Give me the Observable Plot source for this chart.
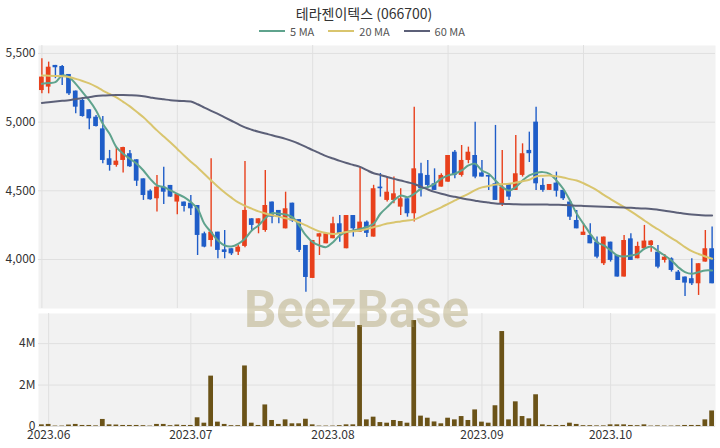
<!DOCTYPE html>
<html><head><meta charset="utf-8">
<script src="https://cdn.jsdelivr.net/npm/d3@7"></script>
<script src="https://cdn.jsdelivr.net/npm/@observablehq/plot@0.6"></script>
<style>
body{margin:0;background:#fff;font-family:"Noto Sans CJK KR","Noto Sans",sans-serif;}
#wrap{position:relative;width:720px;height:448px;overflow:hidden;background:#fff;}
#title{position:absolute;top:4px;left:4px;width:720px;text-align:center;font-size:14px;color:#333;line-height:18px;}
#legend{position:absolute;top:24px;left:2px;width:720px;display:flex;justify-content:center;gap:14px;font-size:11px;color:#555;line-height:14px;}
#legend span.item{display:flex;align-items:center;gap:5px;}
#legend span.sw{display:inline-block;width:26px;height:2px;}
#main{position:absolute;top:40px;left:0;}
#vol{position:absolute;top:310px;left:0;}
#wm{position:absolute;left:244px;top:280px;font-family:Roboto,"Noto Sans",sans-serif;font-weight:bold;font-size:51px;line-height:60px;color:rgba(170,155,100,0.42);pointer-events:none;letter-spacing:-0.3px;}
</style></head>
<body>
<div id="wrap">
  <div id="title"></div>
  <div id="legend"></div>
  <div id="main"></div>
  <div id="vol"></div>
  <div id="wm">BeezBase</div>
</div>
<script>
const chartTitle = "테라젠이텍스 (066700)";
const dates = [
"2023-05-31",
"2023-06-01","2023-06-02","2023-06-05","2023-06-07","2023-06-08","2023-06-09","2023-06-12","2023-06-13","2023-06-14","2023-06-15","2023-06-16","2023-06-19","2023-06-20","2023-06-21","2023-06-22","2023-06-23","2023-06-26","2023-06-27","2023-06-28","2023-06-29","2023-06-30",
"2023-07-03","2023-07-04","2023-07-05","2023-07-06","2023-07-07","2023-07-10","2023-07-11","2023-07-12","2023-07-13","2023-07-14","2023-07-17","2023-07-18","2023-07-19","2023-07-20","2023-07-21","2023-07-24","2023-07-25","2023-07-26","2023-07-27","2023-07-28","2023-07-31",
"2023-08-01","2023-08-02","2023-08-03","2023-08-04","2023-08-07","2023-08-08","2023-08-09","2023-08-10","2023-08-11","2023-08-14","2023-08-16","2023-08-17","2023-08-18","2023-08-21","2023-08-22","2023-08-23","2023-08-24","2023-08-25","2023-08-28","2023-08-29","2023-08-30","2023-08-31",
"2023-09-01","2023-09-04","2023-09-05","2023-09-06","2023-09-07","2023-09-08","2023-09-11","2023-09-12","2023-09-13","2023-09-14","2023-09-15","2023-09-18","2023-09-19","2023-09-20","2023-09-21","2023-09-22","2023-09-25","2023-09-26","2023-09-27",
"2023-10-04","2023-10-05","2023-10-06","2023-10-10","2023-10-11","2023-10-12","2023-10-13","2023-10-16","2023-10-17","2023-10-18","2023-10-19","2023-10-20","2023-10-23","2023-10-24","2023-10-25","2023-10-26"
];
const opens = [5230,5255,5413,5405,5347,5226,5158,5090,5036,4951,4733,4685,4721,4770,4726,4587,4498,4442,4527,4539,4418,4418,4410,4393,4187,4138,4199,4070,4078,4053,4095,4296,4260,4211,4418,4357,4223,4410,4290,4102,3862,4163,4114,4151,4260,4078,4320,4199,4272,4163,4527,4430,4430,4381,4442,4333,4624,4612,4551,4527,4563,4781,4612,4721,4757,4630,4612,4551,4405,4551,4503,4612,4794,5000,4539,4503,4556,4503,4418,4284,4175,4175,4126,3969,4126,4029,3872,4150,4005,4078,4102,4053,3993,4005,3908,3872,3860,3823,3981,4078];
const highs = [5461,5437,5413,5413,5347,5226,5170,5090,5048,5041,4794,4818,4818,4794,4726,4587,4507,4612,4672,4539,4474,4418,4466,4393,4199,4733,4199,4211,4078,4102,4714,4296,4296,4648,4418,4357,4490,4410,4290,4102,4138,4187,4187,4308,4320,4320,4320,4672,4280,4540,4626,4600,4600,4515,4442,5109,4700,4721,4660,4624,4757,4794,4830,4818,5000,4721,4612,4976,4794,4551,4903,4842,4927,5109,4588,4546,4636,4503,4418,4357,4260,4260,4163,4163,4126,4029,4175,4187,4126,4248,4138,4102,4036,4012,3920,3872,4005,3969,4211,4236];
const lows = [5206,5206,5316,5267,5194,5061,5036,4944,4965,4697,4643,4672,4629,4670,4532,4430,4432,4345,4400,4452,4325,4345,4320,4029,4085,4090,4005,4005,4029,4029,4085,4211,4187,4199,4260,4260,4223,4270,4050,3762,3862,4029,4114,4151,4126,4078,4163,4199,4160,4163,4454,4418,4405,4320,4308,4272,4454,4515,4503,4527,4563,4588,4600,4697,4588,4600,4503,4430,4386,4430,4503,4600,4706,4503,4490,4503,4454,4430,4284,4223,4175,4114,4005,3957,3981,3872,3872,3993,4005,4078,4053,3932,3974,3908,3847,3731,3811,3738,3981,3823];
const closes = [5328,5400,5396,5340,5206,5109,5041,5024,4968,4721,4685,4716,4815,4675,4570,4466,4435,4527,4490,4454,4474,4386,4369,4175,4090,4199,4066,4051,4041,4090,4357,4248,4296,4393,4308,4308,4369,4280,4066,3869,4138,4187,4187,4260,4187,4320,4223,4272,4190,4515,4515,4490,4478,4442,4333,4660,4515,4539,4503,4612,4757,4612,4721,4781,4600,4600,4600,4430,4527,4454,4624,4770,4770,4551,4503,4546,4497,4442,4308,4223,4199,4114,4017,4163,3993,3872,4138,3993,4095,4134,4134,3944,4017,3920,3847,3828,3823,3969,4078,3823];
const volumesM = [0.08,0.10,0.02,0.02,0.07,0.10,0.05,0.05,0.03,0.34,0.08,0.07,0.05,0.05,0.05,0.04,0.02,0.10,0.10,0.04,0.07,0.05,0.05,0.42,0.16,2.43,0.21,0.10,0.04,0.04,2.92,0.16,0.05,1.04,0.29,0.10,0.32,0.13,0.13,0.35,0.08,0.02,0.02,0.02,0.04,0.08,0.08,4.87,0.32,0.45,0.19,0.16,0.29,0.24,0.16,5.11,0.50,0.40,0.22,0.13,0.40,0.32,0.48,0.29,0.80,0.21,0.16,1.00,4.58,0.32,1.19,0.48,0.37,1.53,0.08,0.05,0.05,0.05,0.16,0.10,0.04,0.04,0.03,0.03,0.08,0.08,0.08,0.05,0.04,0.08,0.02,0.03,0.02,0.02,0.03,0.05,0.05,0.05,0.32,0.75];
const ma5 = [5279,5285,5291,5340,5328,5279,5218,5158,5085,4988,4915,4818,4770,4733,4697,4648,4587,4539,4527,4503,4478,4454,4418,4369,4260,4199,4138,4102,4095,4114,4151,4211,4248,4300,4337,4333,4328,4308,4248,4175,4126,4102,4090,4126,4175,4199,4211,4223,4236,4260,4333,4381,4430,4466,4454,4478,4515,4527,4551,4588,4612,4624,4648,4685,4697,4648,4624,4575,4527,4503,4527,4575,4612,4630,4636,4624,4575,4515,4430,4333,4260,4187,4126,4102,4066,4029,4022,4029,4041,4078,4095,4061,4029,3993,3944,3908,3896,3908,3920,3920];
const ma20 = [5340,5338,5336,5334,5328,5315,5300,5282,5258,5230,5205,5180,5148,5115,5075,5035,4988,4940,4896,4852,4805,4757,4712,4670,4622,4575,4530,4488,4450,4415,4390,4370,4350,4335,4322,4312,4300,4290,4270,4248,4225,4204,4192,4185,4192,4200,4205,4211,4222,4235,4248,4262,4270,4277,4284,4290,4312,4335,4358,4380,4405,4430,4455,4478,4505,4525,4535,4545,4548,4551,4560,4570,4580,4604,4610,4612,4605,4597,4585,4575,4555,4530,4503,4470,4440,4410,4381,4350,4318,4284,4250,4220,4187,4155,4125,4090,4060,4040,4022,4005];
const ma60 = [5140,5145,5150,5155,5160,5168,5175,5182,5190,5194,5196,5197,5197,5196,5194,5188,5180,5172,5166,5160,5156,5153,5150,5130,5105,5082,5060,5035,5010,4985,4962,4945,4930,4917,4905,4892,4878,4862,4842,4820,4796,4774,4752,4735,4718,4702,4688,4674,4650,4628,4615,4600,4587,4575,4562,4550,4530,4510,4492,4478,4466,4456,4446,4436,4428,4420,4414,4408,4405,4403,4402,4401,4400,4400,4400,4399,4398,4397,4395,4392,4390,4388,4386,4384,4382,4380,4378,4376,4373,4371,4368,4362,4355,4347,4340,4333,4327,4323,4321,4320];
const priceTicks = [4000, 4500, 5000, 5500];
const volumeTicks = [0, 2000000, 4000000];
const volumeTickLabels = ["0", "2M", "4M"];
const monthStarts = ["2023-06-01","2023-07-03","2023-08-01","2023-09-01","2023-10-04"];
const monthLabels = ["2023.06","2023.07","2023.08","2023.09","2023.10"];
const maNames = ["5 MA", "20 MA", "60 MA"];
const maColors = ["#5fa38d", "#d9c56e", "#5c6078"];
const upColor = "#e8401c", downColor = "#1f5dc8", volColor = "#6b5318";
const panelBg = "#f2f2f2", gridColor = "#e0e0e0";

document.getElementById("title").textContent = chartTitle;
const leg = document.getElementById("legend");
maNames.forEach((n, i) => {
  const it = document.createElement("span"); it.className = "item";
  const sw = document.createElement("span"); sw.className = "sw"; sw.style.background = maColors[i];
  const lb = document.createElement("span"); lb.textContent = n;
  it.appendChild(sw); it.appendChild(lb); leg.appendChild(it);
});

const candles = dates.map((d, i) => ({date: d, open: opens[i], high: highs[i], low: lows[i], close: closes[i], volume: volumesM[i] * 1e6}));
const maRows = [];
[ma5, ma20, ma60].forEach((arr, k) => arr.forEach((v, i) => maRows.push({date: dates[i], value: v, series: maNames[k]})));
const mainGrid = [dates[0], dates[20], dates[40], dates[60], dates[80]];
const xScale = {type: "band", domain: dates, paddingInner: 0.3, paddingOuter: 0.15, axis: null, label: null};
const colorOf = d => d.close >= d.open ? upColor : downColor;
const fontStyle = {fontSize: "12px", fontFamily: "'Noto Sans CJK KR','Noto Sans',sans-serif", color: "#333", background: "transparent"};

const main = Plot.plot({
  width: 720, height: 270,
  marginLeft: 38, marginRight: 5, marginTop: 5, marginBottom: 2,
  style: fontStyle,
  x: xScale,
  y: {domain: [3643, 5558], axis: null, label: null},
  marks: [
    Plot.frame({fill: panelBg, stroke: null}),
    Plot.gridY(priceTicks, {stroke: gridColor, strokeOpacity: 1}),
    Plot.gridX(mainGrid, {stroke: gridColor, strokeOpacity: 1}),
    Plot.axisY(priceTicks, {label: null, tickSize: 0, tickPadding: 3, tickFormat: d3.format(","), fill: "#333"}),
    Plot.ruleX(candles, {x: "date", y1: "low", y2: "high", stroke: colorOf, strokeWidth: 1.4}),
    Plot.barY(candles, {x: "date", y1: "open", y2: "close", fill: colorOf}),
    Plot.line(maRows, {x: "date", y: "value", z: "series", stroke: d => maColors[maNames.indexOf(d.series)], strokeWidth: 2, curve: "catmull-rom"})
  ]
});
document.getElementById("main").appendChild(main);

const vol = Plot.plot({
  width: 720, height: 138,
  marginLeft: 38, marginRight: 5, marginTop: 3, marginBottom: 22,
  style: fontStyle,
  x: xScale,
  y: {domain: [0, 5450000], axis: null, label: null},
  marks: [
    Plot.frame({fill: panelBg, stroke: null}),
    Plot.gridY(volumeTicks, {stroke: gridColor, strokeOpacity: 1}),
    Plot.gridX(monthStarts, {stroke: gridColor, strokeOpacity: 1}),
    Plot.barY(candles, {x: "date", y: "volume", fill: volColor}),
    Plot.axisY(volumeTicks, {label: null, tickSize: 0, tickPadding: 3, tickFormat: d => volumeTickLabels[volumeTicks.indexOf(d)], fill: "#333"}),
    Plot.axisX(monthStarts, {label: null, tickSize: 0, tickPadding: 4, tickFormat: d => monthLabels[monthStarts.indexOf(d)], fill: "#333"})
  ]
});
document.getElementById("vol").appendChild(vol);
</script>
</body></html>
